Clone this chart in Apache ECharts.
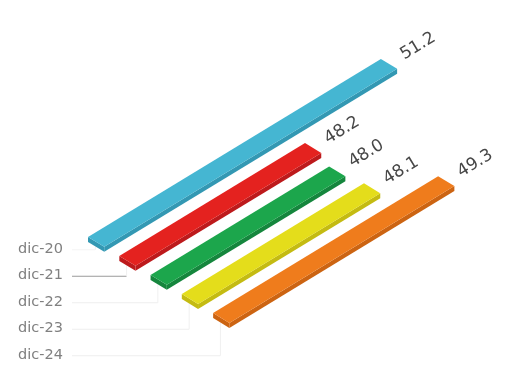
<!DOCTYPE html>
<html>
<head>
<meta charset="utf-8">
<script src="https://cdn.jsdelivr.net/npm/echarts@6/dist/echarts.min.js"></script>
<style>
  html, body { margin: 0; padding: 0; background: #fff; }
  #chart { width: 526px; height: 368px; }
</style>
</head>
<body>
<div id="chart"></div>
<script>
// Monthly readings, December of each year
const categories = ['dic-20', 'dic-21', 'dic-22', 'dic-23', 'dic-24'];
const values = [51.2, 48.2, 48.0, 48.1, 49.3];
const topColors = ['#45b6d2', '#e4221f', '#1ca64c', '#e4dd1b', '#ef7c1c'];
const sideColors = ['#3398b3', '#bd1a1c', '#15863d', '#c4bb12', '#cc6412'];

// Value axis range of the (hidden) flat bar grid
const AXIS_MIN = 43;
const AXIS_MAX = 52;

// Isometric projection: value axis runs up-right, category axis down-right
const ANG = 31.3 * Math.PI / 180;
const U = [Math.cos(ANG), -Math.sin(ANG)];
const C = [Math.cos(ANG), Math.sin(ANG)];
const ORIGIN = [80.5, 232.4];
const TOP_W = 19;     // width of the top face (flat px)
const SIDE_H = 5;     // height of the side faces
const LABEL_GAP = 15; // distance from bar end to value label
const FLAT_W = (AXIS_MAX - AXIS_MIN) * 41.8;
const FLAT_H = categories.length * 36.6;

function project(fx, fy, sys) {
  const a = fx - sys.x, b = fy - sys.y;
  return [ORIGIN[0] + a * U[0] + b * C[0], ORIGIN[1] + a * U[1] + b * C[1]];
}

function renderBar(params, api) {
  const v = api.value(0);
  const i = api.value(1);
  const sys = params.coordSys;
  const s = api.coord([AXIS_MIN, i]);
  const e = api.coord([v, i]);
  const y1 = s[1] - TOP_W / 2, y2 = s[1] + TOP_W / 2;
  const p1 = project(s[0], y1, sys);
  const p2 = project(e[0], y1, sys);
  const p3 = project(e[0], y2, sys);
  const p4 = project(s[0], y2, sys);
  const dn = p => [p[0], p[1] + SIDE_H];
  const mid = project(e[0], s[1], sys);
  return {
    type: 'group',
    children: [
      { type: 'polygon', shape: { points: [p4, p3, dn(p3), dn(p4)] }, style: { fill: sideColors[i] } },
      { type: 'polygon', shape: { points: [p1, p4, dn(p4), dn(p1)] }, style: { fill: sideColors[i] } },
      { type: 'polygon', shape: { points: [p1, p2, p3, p4] }, style: { fill: topColors[i] } },
      {
        type: 'text',
        x: mid[0] + LABEL_GAP * U[0],
        y: mid[1] + LABEL_GAP * U[1],
        rotation: ANG,
        style: {
          text: v.toFixed(1),
          fill: '#474747',
          font: '17px "DejaVu Sans"',
          align: 'left',
          verticalAlign: 'middle'
        }
      }
    ]
  };
}

const chart = echarts.init(document.getElementById('chart'), null, { renderer: 'canvas' });

chart.setOption({
  animation: false,
  backgroundColor: '#fff',
  grid: [
    { left: 0, top: 0, width: FLAT_W, height: FLAT_H, show: false },
    { left: 68, top: 235.5, width: 10, height: 136, show: false }
  ],
  xAxis: [
    { type: 'value', gridIndex: 0, min: AXIS_MIN, max: AXIS_MAX, show: false },
    { type: 'value', gridIndex: 1, show: false }
  ],
  yAxis: [
    { type: 'category', gridIndex: 0, data: categories, inverse: true, show: false },
    {
      type: 'category', gridIndex: 1, data: categories, inverse: true,
      axisLine: { show: false }, axisTick: { show: false }, splitLine: { show: false },
      axisLabel: { align: 'left', margin: 50, color: '#808080', fontSize: 14.5, fontFamily: 'DejaVu Sans' }
    }
  ],
  series: [{
    type: 'custom',
    xAxisIndex: 0,
    yAxisIndex: 0,
    clip: false,
    data: values.map((v, i) => [v, i]),
    encode: { x: 0, y: 1 },
    renderItem: renderBar
  }]
});

// Leader lines from the category labels to the start of each bar
const leaderColors = ['#f4f4f4', '#9a9a9a', '#eeeeee', '#eeeeee', '#eeeeee'];
const leaders = [];
categories.forEach((cat, i) => {
  const ly = chart.convertToPixel({ yAxisIndex: 1 }, cat) + 1;
  const s = chart.convertToPixel({ gridIndex: 0 }, [AXIS_MIN, i]);
  const sys = { x: 0, y: 0 };
  const a = project(s[0], s[1] - TOP_W / 2, sys);
  const b = project(s[0], s[1] + TOP_W / 2, sys);
  const t = 0.45;
  const bx = a[0] + (b[0] - a[0]) * t;
  const by = a[1] + (b[1] - a[1]) * t + SIDE_H;
  leaders.push({
    type: 'line',
    shape: { x1: 72, y1: ly, x2: bx, y2: ly },
    style: { stroke: leaderColors[i], lineWidth: 1 },
    z: -1
  });
  leaders.push({
    type: 'line',
    shape: { x1: bx, y1: ly, x2: bx, y2: by },
    style: { stroke: '#f0f0f0', lineWidth: 1 },
    z: -1
  });
});
chart.setOption({ graphic: leaders });
</script>
</body>
</html>
